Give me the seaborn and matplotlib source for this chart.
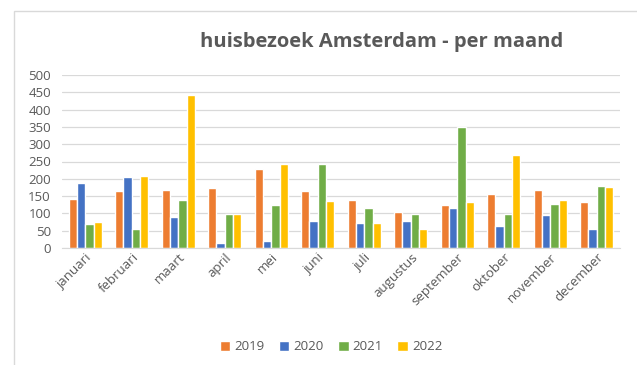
import pandas as pd
import matplotlib.pyplot as plt
import seaborn as sns
from matplotlib.patches import Rectangle

# --- data ---
maanden = ['januari', 'februari', 'maart', 'april', 'mei', 'juni', 'juli',
           'augustus', 'september', 'oktober', 'november', 'december']
jaren = ['2019', '2020', '2021', '2022']
v2019 = [141, 165, 169, 172, 229, 165, 138, 104, 124, 157, 167, 132]
v2020 = [187, 205, 89, 15, 19, 79, 72, 79, 116, 65, 94, 56]
v2021 = [68, 56, 139, 98, 124, 242, 117, 98, 349, 97, 128, 179]
v2022 = [76, 209, 442, 98, 243, 135, 72, 56, 132, 270, 138, 176]
kleuren = ['#ED7D31', '#4472C4', '#70AD47', '#FFC000']

df = pd.DataFrame({'maand': maanden, '2019': v2019, '2020': v2020,
                   '2021': v2021, '2022': v2022})
df = df.melt(id_vars='maand', var_name='jaar', value_name='bezoeken')

sns.set_style('white')
plt.rcParams['font.family'] = ['Open Sans', 'DejaVu Sans']
tekst = '#595959'

fig = plt.figure(figsize=(6.37, 3.65), dpi=100)
ax = fig.add_axes([62 / 637, 1 - 248 / 365, (620 - 62) / 637, (248 - 75) / 365])

sns.barplot(data=df, x='maand', y='bezoeken', hue='jaar', order=maanden,
            hue_order=jaren, palette=kleuren, width=0.72, saturation=1,
            ax=ax, legend=True)

ax.set_ylim(0, 500)
ax.set_yticks(range(0, 501, 50))
ax.set_xlim(-0.5, 11.5)
ax.yaxis.grid(True, color='#D9D9D9', linewidth=0.9)
ax.set_axisbelow(True)
for s in ['top', 'right', 'left']:
    ax.spines[s].set_visible(False)
ax.spines['bottom'].set_color('#D9D9D9')
ax.set_xlabel('')
ax.set_ylabel('')
ax.tick_params(axis='y', length=0, labelsize=9.5, colors=tekst, pad=8)
ax.tick_params(axis='x', length=0, labelsize=9.5, colors=tekst, pad=2)
plt.setp(ax.get_xticklabels(), rotation=45, ha='right', rotation_mode='anchor')

ax.legend(loc='center', bbox_to_anchor=(331 / 637, 1 - 347 / 365),
          bbox_transform=fig.transFigure, ncol=4, frameon=False, fontsize=9.5,
          handlelength=0.8, handleheight=0.8, handletextpad=0.3,
          columnspacing=1.1, labelcolor=tekst)

fig.text(382 / 637, 1 - 42 / 365, 'huisbezoek Amsterdam - per maand',
         ha='center', va='center', fontsize=14.5, fontweight='bold', color=tekst)

# chart frame as in the screenshot
fig.patches.append(Rectangle((14 / 637, -0.1), 1.1, 1 - 11 / 365 + 0.1,
                             transform=fig.transFigure, fill=False,
                             edgecolor='#D9D9D9', linewidth=1.0))

fig.savefig('out.png', dpi=100)
